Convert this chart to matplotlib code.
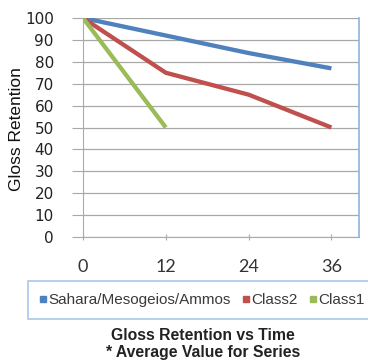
import matplotlib
matplotlib.use("Agg")
import matplotlib.pyplot as plt
from matplotlib.lines import Line2D

months = [0, 12, 24, 36]
sahara = [100, 92, 84, 77]
class2 = [100, 75, 65, 50]
class1_months = [0, 12]
class1 = [100, 50]
series_names = ["Sahara/Mesogeios/Ammos", "Class2", "Class1"]
colors = ["#4F81BD", "#C0504D", "#9BBB59"]
y_ticks = list(range(0, 101, 10))
x_ticks = [0, 12, 24, 36]

W, H = 368, 363
fig = plt.figure(figsize=(W/100, H/100), dpi=100)
ax = fig.add_axes([83/W, 1-237/H, (359-83)/W, (237-18)/H])

ax.plot(months, sahara, color=colors[0], lw=3.1, solid_capstyle="butt", zorder=3)
ax.plot(months, class2, color=colors[1], lw=3.1, solid_capstyle="butt", zorder=3)
ax.plot(class1_months, class1, color=colors[2], lw=3.1, solid_capstyle="butt", zorder=3)

ax.set_xlim(0, 40)
ax.set_ylim(0, 100)
ax.set_yticks(y_ticks)
ax.set_xticks(x_ticks)
ax.grid(axis="y", color="#a8a8a8", lw=0.9)
ax.spines["top"].set_visible(False)
ax.spines["right"].set_color("#8fb3d9")
ax.spines["right"].set_linewidth(1.2)
ax.spines["left"].set_color("#aaaaaa")
ax.spines["bottom"].set_color("#aaaaaa")
ax.tick_params(axis="y", length=8, color="#a8a8a8", labelsize=11, pad=13, labelcolor="#222222")
ax.tick_params(axis="x", length=4, direction="inout", color="#aaaaaa", labelsize=13, pad=14, labelcolor="#333333")
for t in ax.get_yticklabels():
    t.set_family("DejaVu Sans")
for t in ax.get_xticklabels():
    t.set_family("Lato")

fig.text(17/W, 1-129/H, "Gloss Retention", rotation=90, ha="center", va="center",
         fontsize=12.5, family="Liberation Sans", color="#111111")

handles = [Line2D([], [], ls="none", marker="s", markersize=5, color=c) for c in colors]
leg = fig.legend(handles, series_names, loc="upper left", bbox_to_anchor=(28/W, 1-281/H),
                 ncol=3, frameon=True, fancybox=False, handlelength=0.4, handletextpad=0.1,
                 columnspacing=0.85, borderpad=0.8, borderaxespad=0,
                 prop={"family": "Liberation Sans", "size": 11})
leg.get_frame().set_edgecolor("#9cc0e6")
leg.get_frame().set_linewidth(1.3)
for t in leg.get_texts():
    t.set_color("#3a3a3a")

fig.text(203/W, 1-335/H, "Gloss Retention vs Time", ha="center", va="center",
         fontsize=11.3, fontweight="bold", family="Liberation Sans", color="#222222")
fig.text(203/W, 1-353/H, "* Average Value for Series", ha="center", va="center",
         fontsize=11.3, fontweight="bold", family="Liberation Sans", color="#222222")

fig.savefig("out.png", dpi=100)
